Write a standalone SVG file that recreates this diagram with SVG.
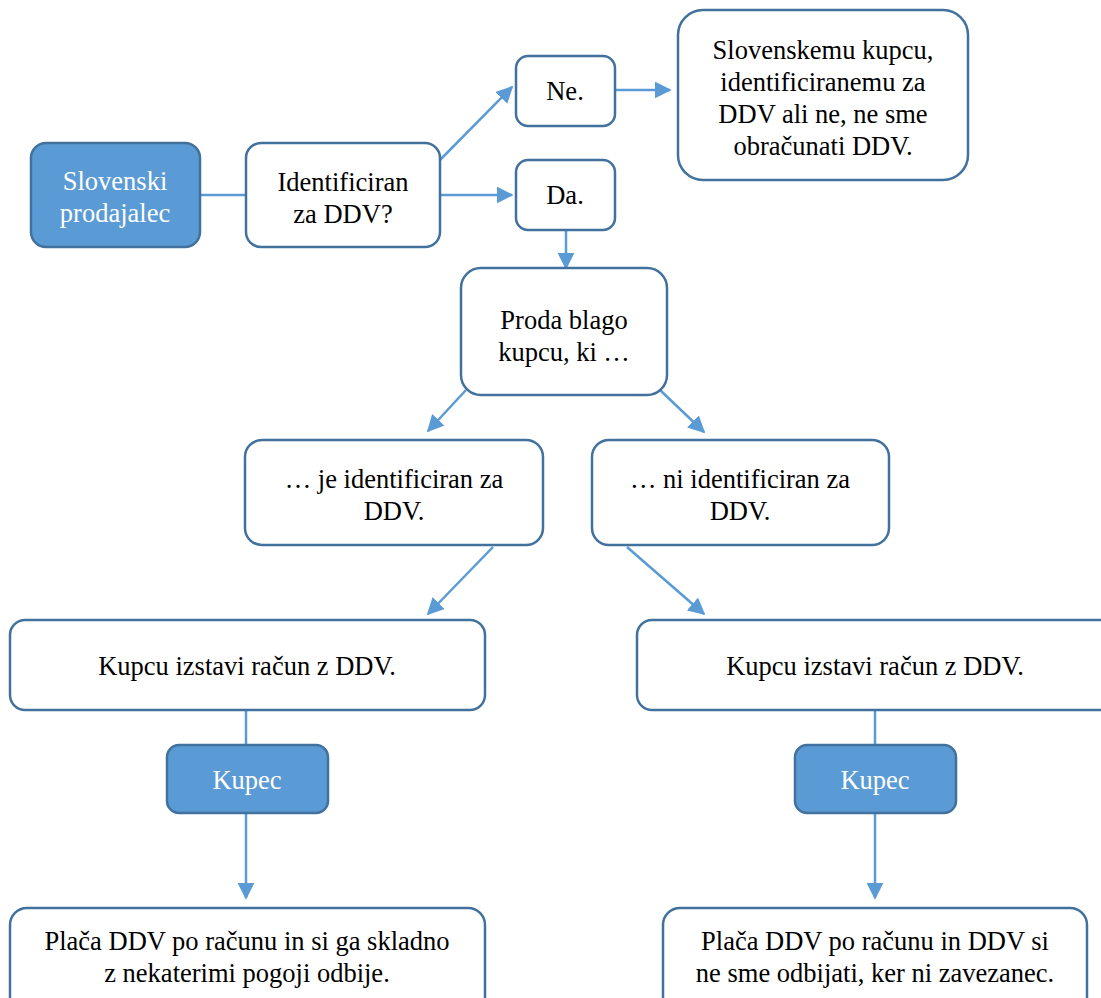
<svg xmlns="http://www.w3.org/2000/svg" width="1101" height="998" viewBox="0 0 1101 998">
<defs>
<marker id="ah" viewBox="0 0 10 10" refX="9" refY="5" markerWidth="17" markerHeight="17" markerUnits="userSpaceOnUse" orient="auto"><path d="M0,0 L10,5 L0,10 z" fill="#5b9bd5"/></marker>
<style>
.n{fill:#fff;stroke:#41719c;stroke-width:2.5}
.f{fill:#5b9bd5;stroke:#41719c;stroke-width:2.5}
text{font-family:'Liberation Serif','Times New Roman',serif;font-size:26.5px;fill:#000;text-anchor:middle}
.w{fill:#fff}
.c{stroke:#5b9bd5;stroke-width:2.5;fill:none}
.a{marker-end:url(#ah)}
</style>
</defs>
<rect width="1101" height="998" fill="#fff"/>
<g id="connectors">
<line class="c" x1="200" y1="195" x2="246" y2="195"/>
<line class="c a" x1="440" y1="160" x2="512" y2="87"/>
<line class="c a" x1="440" y1="195" x2="512" y2="195"/>
<line class="c a" x1="615" y1="90" x2="670" y2="90"/>
<line class="c a" x1="566" y1="230" x2="566" y2="268"/>
<line class="c a" x1="466" y1="390" x2="428" y2="431"/>
<line class="c a" x1="660" y1="390" x2="704" y2="432"/>
<line class="c a" x1="493" y1="547" x2="428" y2="614"/>
<line class="c a" x1="627" y1="547" x2="704" y2="614"/>
<line class="c" x1="246" y1="710" x2="246" y2="745"/>
<line class="c a" x1="246" y1="813" x2="246" y2="898"/>
<line class="c" x1="875" y1="710" x2="875" y2="745"/>
<line class="c a" x1="875" y1="813" x2="875" y2="898"/>
</g>
<g id="prodajalec"><rect class="f" x="31" y="143" width="169" height="104" rx="15"/><text class="w" x="115" y="190">Slovenski</text><text class="w" x="115" y="222">prodajalec</text></g>
<g id="identificiran"><rect class="n" x="246" y="143" width="194" height="104" rx="15"/><text x="343" y="191">Identificiran</text><text x="343" y="223">za DDV?</text></g>
<g id="ne"><rect class="n" x="516" y="56" width="99" height="70" rx="12"/><text x="565" y="100">Ne.</text></g>
<g id="da"><rect class="n" x="516" y="160" width="99" height="70" rx="12"/><text x="565" y="204">Da.</text></g>
<g id="slovenskemu"><rect class="n" x="678" y="10" width="290" height="170" rx="25"/><text x="823" y="59">Slovenskemu kupcu,</text><text x="823" y="91">identificiranemu za</text><text x="823" y="123">DDV ali ne, ne sme</text><text x="823" y="155">obračunati DDV.</text></g>
<g id="proda"><rect class="n" x="461" y="268" width="206" height="127" rx="20"/><text x="564" y="329">Proda blago</text><text x="564" y="361">kupcu, ki …</text></g>
<g id="je"><rect class="n" x="245" y="440" width="298" height="105" rx="17"/><text x="394" y="488">… je identificiran za</text><text x="394" y="520">DDV.</text></g>
<g id="ni"><rect class="n" x="592" y="440" width="297" height="105" rx="17"/><text x="740" y="488">… ni identificiran za</text><text x="740" y="520">DDV.</text></g>
<g id="racun1"><rect class="n" x="10" y="620" width="475" height="90" rx="15"/><text x="247" y="675">Kupcu izstavi račun z DDV.</text></g>
<g id="racun2"><rect class="n" x="637" y="620" width="480" height="90" rx="15"/><text x="875" y="675">Kupcu izstavi račun z DDV.</text></g>
<g id="kupec1"><rect class="f" x="167" y="745" width="161" height="68" rx="12"/><text class="w" x="247" y="789">Kupec</text></g>
<g id="kupec2"><rect class="f" x="795" y="745" width="161" height="68" rx="12"/><text class="w" x="875" y="789">Kupec</text></g>
<g id="placa1"><rect class="n" x="10" y="908" width="475" height="110" rx="17"/><text x="247" y="950">Plača DDV po računu in si ga skladno</text><text x="247" y="982">z nekaterimi pogoji odbije.</text></g>
<g id="placa2"><rect class="n" x="663" y="908" width="424" height="110" rx="17"/><text x="875" y="950">Plača DDV po računu in DDV si</text><text x="875" y="982">ne sme odbijati, ker ni zavezanec.</text></g>
</svg>
